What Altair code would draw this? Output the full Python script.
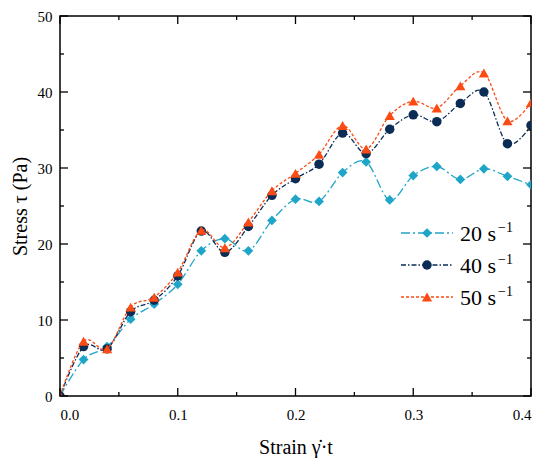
import altair as alt
import pandas as pd

strain = [0.0, 0.02, 0.04, 0.06, 0.08, 0.10, 0.12, 0.14, 0.16, 0.18, 0.20,
          0.22, 0.24, 0.26, 0.28, 0.30, 0.32, 0.34, 0.36, 0.38, 0.40]
s20 = [0.0, 4.8, 6.5, 10.1, 12.1, 14.7, 19.1, 20.7, 19.1, 23.1, 25.9,
       25.6, 29.4, 30.8, 25.8, 29.0, 30.2, 28.5, 29.9, 28.9, 27.8]
s40 = [0.0, 6.5, 6.2, 11.1, 12.6, 15.8, 21.7, 18.9, 22.3, 26.4, 28.6,
       30.5, 34.6, 31.9, 35.1, 37.0, 36.1, 38.5, 40.0, 33.2, 35.6]
s50 = [0.0, 7.2, 6.2, 11.7, 13.0, 16.3, 21.8, 19.5, 22.9, 27.0, 29.3,
       31.8, 35.6, 32.5, 36.9, 38.8, 37.9, 40.8, 42.5, 36.2, 38.6]

series_names = ["20 s", "40 s", "50 s"]
series_values = [s20, s40, s50]
colors = ["#1fa5c8", "#0b2d55", "#fb4a14"]
dashes = [[9, 3, 2, 3], [5, 2, 1.5, 2], [3, 2]]
shapes = ["diamond", "circle", "triangle-up"]
sizes = [95, 90, 105]
sup_text = "\u22121"

x_major = [0.0, 0.1, 0.2, 0.3, 0.4]
x_minor = [0.05, 0.15, 0.25, 0.35]
y_major = [0, 10, 20, 30, 40, 50]
y_minor = [5, 15, 25, 35, 45]

FONT = "Liberation Serif"
W, H = 471, 380

xscale = alt.Scale(domain=[0, 0.4], nice=False, zero=False)
yscale = alt.Scale(domain=[0, 50], nice=False, zero=False)

xaxis = alt.Axis(values=x_major, format=".1f", ticks=False, tickSize=0, domain=False,
                 grid=False, labelFont=FONT, labelFontSize=15, labelColor="black",
                 labelPadding=11, title="Strain \u03b3\u0307\u00b7t", titleFont=FONT,
                 titleFontSize=20, titleFontWeight="normal", titleColor="black",
                 titlePadding=15)
yaxis = alt.Axis(values=y_major, format="d", ticks=False, tickSize=0, domain=False,
                 grid=False, labelFont=FONT, labelFontSize=15, labelColor="black",
                 labelPadding=8, title="Stress \u03c4 (Pa)", titleFont=FONT,
                 titleFontSize=20, titleFontWeight="normal", titleColor="black",
                 titlePadding=7)

layers = []
for name, vals, col, dash, shp, sz in zip(series_names, series_values, colors, dashes, shapes, sizes):
    df = pd.DataFrame({"strain": strain, "stress": vals})
    base = alt.Chart(df)
    line = base.mark_line(color=col, strokeDash=dash, strokeWidth=1.3,
                          interpolate="cardinal", clip=True).encode(
        x=alt.X("strain:Q", scale=xscale, axis=xaxis),
        y=alt.Y("stress:Q", scale=yscale, axis=yaxis),
    )
    pts = base.mark_point(shape=shp, size=sz, filled=True, opacity=1, color=col,
                          clip=True).encode(
        x=alt.X("strain:Q", scale=xscale),
        y=alt.Y("stress:Q", scale=yscale),
    )
    layers += [line, pts]

# inward ticks on all four sides
xt = pd.DataFrame({"v": x_major + x_minor,
                   "len": [8] * len(x_major) + [4] * len(x_minor)})
yt = pd.DataFrame({"v": y_major + y_minor,
                   "len": [8] * len(y_major) + [4] * len(y_minor)})
for dfk, L in [(xt[xt.len == 8], 8), (xt[xt.len == 4], 4)]:
    layers.append(alt.Chart(dfk).mark_rule(color="black", strokeWidth=1.3).encode(
        x=alt.X("v:Q", scale=xscale), y=alt.value(H), y2=alt.value(H - L)))
    layers.append(alt.Chart(dfk).mark_rule(color="black", strokeWidth=1.3).encode(
        x=alt.X("v:Q", scale=xscale), y=alt.value(0), y2=alt.value(L)))
for dfk, L in [(yt[yt.len == 8], 8), (yt[yt.len == 4], 4)]:
    layers.append(alt.Chart(dfk).mark_rule(color="black", strokeWidth=1.3).encode(
        y=alt.Y("v:Q", scale=yscale), x=alt.value(0), x2=alt.value(L)))
    layers.append(alt.Chart(dfk).mark_rule(color="black", strokeWidth=1.3).encode(
        y=alt.Y("v:Q", scale=yscale), x=alt.value(W), x2=alt.value(W - L)))

# manual legend inside the plot
row_y = [217, 249, 281]
lx0, lx1, lxm, ltx = 341, 393, 367, 400
for name, col, dash, shp, sz, ry in zip(series_names, colors, dashes, shapes, sizes, row_y):
    ld = pd.DataFrame({"label": [name], "sup": [sup_text]})
    b = alt.Chart(ld)
    layers.append(b.mark_rule(color=col, strokeDash=dash, strokeWidth=1.3).encode(
        x=alt.value(lx0), x2=alt.value(lx1), y=alt.value(ry)))
    layers.append(b.mark_point(shape=shp, size=sz, filled=True, opacity=1, color=col).encode(
        x=alt.value(lxm), y=alt.value(ry)))
    layers.append(b.mark_text(font=FONT, fontSize=22, align="left", baseline="alphabetic",
                              color="black").encode(
        x=alt.value(ltx), y=alt.value(ry + 7.5), text="label:N"))
    layers.append(b.mark_text(font=FONT, fontSize=14, align="left", baseline="alphabetic",
                              color="black").encode(
        x=alt.value(ltx + 38), y=alt.value(ry - 1), text="sup:N"))

chart = alt.layer(*layers).properties(
    width=W, height=H,
    autosize=alt.AutoSizeParams(type="none"),
    padding={"left": 52, "top": 8, "right": 11, "bottom": 62},
    background="white",
).configure_view(stroke="black", strokeWidth=1.5)

chart.save("out.html", embed_options={"renderer": "svg", "actions": False})
